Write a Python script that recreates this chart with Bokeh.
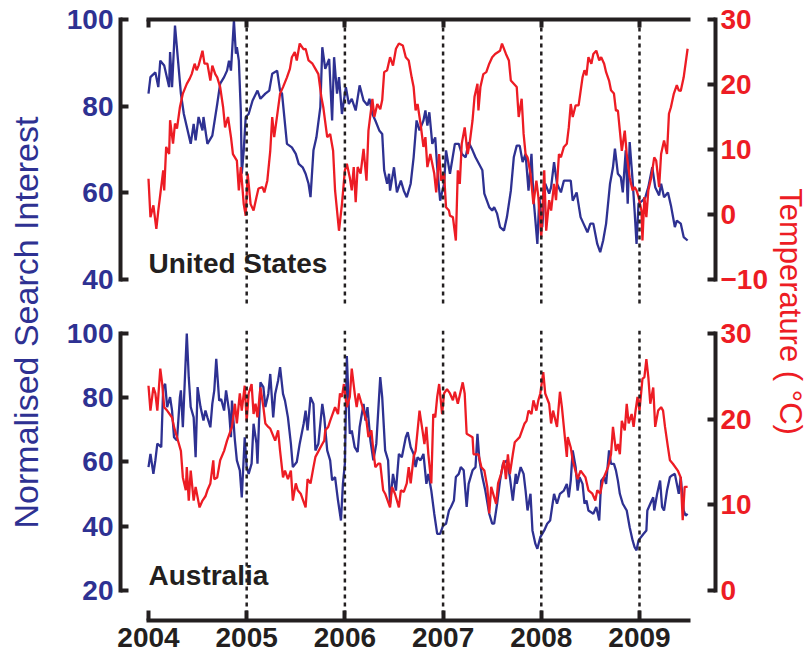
import math
from bokeh.plotting import figure
from bokeh.models import Range1d, LinearAxis, FixedTicker, Span, Label, CustomLabelingPolicy
from bokeh.layouts import row, column
from bokeh.embed import file_html
from bokeh.resources import INLINE

# ---------------- data ----------------
years = [2004, 2005, 2006, 2007, 2008, 2009]
year_lines = [2005, 2006, 2007, 2008, 2009]

us_search_year = [2004.00, 2004.02, 2004.07, 2004.10, 2004.12, 2004.16, 2004.21, 2004.22, 2004.24, 2004.27,
    2004.33, 2004.36, 2004.43, 2004.46, 2004.48, 2004.51, 2004.55, 2004.56, 2004.60, 2004.65,
    2004.70, 2004.73, 2004.77, 2004.80, 2004.82, 2004.84, 2004.87, 2004.89, 2004.90, 2004.92,
    2004.94, 2004.95, 2004.97, 2004.99, 2005.02, 2005.06, 2005.11, 2005.14, 2005.19, 2005.23,
    2005.26, 2005.31, 2005.34, 2005.36, 2005.41, 2005.46, 2005.50, 2005.53, 2005.57, 2005.60,
    2005.63, 2005.65, 2005.68, 2005.71, 2005.75, 2005.77, 2005.80, 2005.84, 2005.87, 2005.89,
    2005.92, 2005.94, 2005.97, 2006.01, 2006.04, 2006.07, 2006.11, 2006.15, 2006.19, 2006.23,
    2006.25, 2006.28, 2006.31, 2006.35, 2006.38, 2006.40, 2006.43, 2006.45, 2006.46, 2006.50,
    2006.53, 2006.57, 2006.60, 2006.63, 2006.67, 2006.70, 2006.73, 2006.76, 2006.80, 2006.82,
    2006.84, 2006.86, 2006.89, 2006.92, 2006.94, 2006.97, 2007.01, 2007.03, 2007.07, 2007.12,
    2007.16, 2007.19, 2007.23, 2007.26, 2007.30, 2007.33, 2007.40, 2007.42, 2007.47, 2007.50,
    2007.52, 2007.55, 2007.58, 2007.62, 2007.65, 2007.69, 2007.72, 2007.75, 2007.78, 2007.81,
    2007.84, 2007.87, 2007.90, 2007.92, 2007.96, 2007.98, 2008.01, 2008.04, 2008.08, 2008.10,
    2008.13, 2008.16, 2008.20, 2008.23, 2008.30, 2008.32, 2008.36, 2008.40, 2008.43, 2008.47,
    2008.50, 2008.53, 2008.57, 2008.60, 2008.63, 2008.66, 2008.70, 2008.73, 2008.75, 2008.78,
    2008.81, 2008.83, 2008.86, 2008.88, 2008.90, 2008.93, 2008.95, 2008.97, 2008.99, 2009.03,
    2009.06, 2009.09, 2009.13, 2009.16, 2009.20, 2009.22, 2009.25, 2009.29, 2009.32, 2009.36,
    2009.38, 2009.42, 2009.45, 2009.49]
us_search = [82.9, 86.7, 87.8, 84.4, 90.5, 89.4, 84.4, 92.5, 84.4, 98.6,
    82.9, 78.2, 71.3, 75.9, 72.1, 77.5, 74.4, 77.5, 71.3, 73.2,
    80.5, 85.2, 86.7, 88.2, 90.5, 88.2, 99.8, 92.1, 93.6, 90.5,
    79.0, 64.4, 69.8, 77.5, 78.2, 81.3, 83.6, 81.7, 82.9, 83.6,
    87.5, 88.2, 83.6, 82.9, 71.3, 70.5, 69.0, 66.7, 65.9, 64.4,
    62.1, 59.0, 69.8, 72.8, 79.8, 93.6, 88.6, 90.9, 76.7, 91.3,
    82.9, 86.7, 78.2, 84.4, 80.5, 81.7, 79.0, 84.8, 81.3, 80.2,
    81.7, 78.2, 76.7, 74.4, 73.6, 65.2, 62.1, 64.4, 60.5, 65.9,
    60.1, 62.8, 60.5, 59.0, 62.1, 68.2, 76.7, 74.4, 76.7, 79.0,
    75.5, 78.6, 71.3, 72.8, 65.9, 58.2, 62.1, 69.8, 64.4, 71.3,
    71.3, 69.0, 68.2, 71.7, 69.8, 68.2, 65.2, 59.8, 56.7, 55.9,
    56.7, 55.2, 52.1, 51.3, 54.4, 60.5, 68.2, 70.9, 70.9, 67.1,
    69.0, 60.5, 69.0, 59.0, 48.2, 59.0, 52.1, 62.1, 59.8, 61.3,
    67.1, 62.1, 60.1, 62.8, 62.8, 58.2, 60.1, 54.4, 52.9, 50.9,
    52.9, 52.9, 48.2, 46.3, 49.0, 52.9, 62.1, 65.9, 70.2, 64.4,
    63.6, 60.1, 69.8, 57.5, 71.7, 62.8, 55.9, 48.2, 57.5, 58.2,
    59.0, 61.3, 65.9, 61.3, 59.4, 62.1, 59.0, 60.1, 57.1, 52.1,
    53.6, 52.9, 49.8, 49.0]

us_temp_year = [2004.00, 2004.02, 2004.05, 2004.08, 2004.10, 2004.15, 2004.16, 2004.18, 2004.21, 2004.22,
    2004.25, 2004.27, 2004.29, 2004.32, 2004.35, 2004.39, 2004.42, 2004.44, 2004.47, 2004.49,
    2004.51, 2004.55, 2004.57, 2004.60, 2004.63, 2004.65, 2004.68, 2004.70, 2004.73, 2004.76,
    2004.78, 2004.81, 2004.84, 2004.86, 2004.90, 2004.92, 2004.94, 2004.97, 2004.99, 2005.01,
    2005.04, 2005.07, 2005.10, 2005.12, 2005.16, 2005.18, 2005.21, 2005.24, 2005.26, 2005.28,
    2005.31, 2005.34, 2005.37, 2005.41, 2005.44, 2005.46, 2005.49, 2005.51, 2005.54, 2005.58,
    2005.60, 2005.63, 2005.67, 2005.70, 2005.73, 2005.76, 2005.78, 2005.82, 2005.85, 2005.88,
    2005.90, 2005.94, 2005.97, 2006.00, 2006.02, 2006.05, 2006.07, 2006.09, 2006.11, 2006.13,
    2006.16, 2006.19, 2006.22, 2006.24, 2006.28, 2006.30, 2006.33, 2006.36, 2006.38, 2006.40,
    2006.43, 2006.46, 2006.49, 2006.52, 2006.55, 2006.59, 2006.62, 2006.65, 2006.68, 2006.70,
    2006.72, 2006.74, 2006.77, 2006.80, 2006.82, 2006.84, 2006.87, 2006.91, 2006.93, 2006.96,
    2006.98, 2007.01, 2007.03, 2007.06, 2007.07, 2007.10, 2007.13, 2007.15, 2007.17, 2007.19,
    2007.22, 2007.25, 2007.27, 2007.30, 2007.32, 2007.35, 2007.36, 2007.38, 2007.41, 2007.44,
    2007.47, 2007.50, 2007.53, 2007.58, 2007.60, 2007.64, 2007.67, 2007.69, 2007.75, 2007.77,
    2007.80, 2007.82, 2007.84, 2007.86, 2007.89, 2007.92, 2007.95, 2007.97, 2008.00, 2008.03,
    2008.05, 2008.08, 2008.10, 2008.13, 2008.15, 2008.18, 2008.20, 2008.23, 2008.26, 2008.28,
    2008.30, 2008.32, 2008.35, 2008.38, 2008.42, 2008.44, 2008.46, 2008.48, 2008.51, 2008.53,
    2008.56, 2008.59, 2008.61, 2008.64, 2008.66, 2008.69, 2008.71, 2008.74, 2008.76, 2008.78,
    2008.80, 2008.82, 2008.85, 2008.87, 2008.90, 2008.93, 2008.95, 2008.97, 2008.99, 2009.02,
    2009.03, 2009.05, 2009.07, 2009.09, 2009.12, 2009.15, 2009.17, 2009.20, 2009.22, 2009.25,
    2009.28, 2009.30, 2009.32, 2009.35, 2009.38, 2009.40, 2009.42, 2009.45, 2009.49]
us_temp = [5.5, -0.4, 1.4, -2.2, 0.6, 6.8, 3.7, 10.4, 9.3, 14.5,
    10.9, 14.0, 13.2, 16.5, 18.6, 20.1, 20.9, 21.6, 23.2, 22.2,
    22.9, 25.2, 23.2, 23.2, 20.6, 22.9, 21.6, 21.1, 19.6, 16.5,
    13.4, 15.0, 11.9, 9.3, 8.3, 3.7, 7.3, 1.6, -0.2, 6.3,
    1.6, 0.6, 2.7, 4.0, 4.2, 3.4, 5.2, 9.8, 15.0, 11.9,
    15.2, 18.6, 19.6, 21.1, 22.4, 24.2, 25.0, 23.7, 26.3, 25.4,
    25.5, 23.7, 23.2, 22.4, 21.6, 18.1, 16.5, 11.9, 12.4, 9.8,
    3.7, -2.5, 1.6, 6.8, 7.8, 5.7, 3.7, 7.3, 1.9, 7.3,
    6.3, 10.1, 5.2, 12.9, 17.8, 15.0, 17.0, 16.2, 17.6, 21.9,
    22.2, 24.2, 22.9, 25.5, 26.3, 26.0, 24.2, 23.7, 21.1, 19.6,
    16.0, 17.0, 14.0, 10.4, 11.9, 7.3, 9.3, 6.3, 3.4, 9.3,
    5.2, 6.3, 1.1, 0.6, -0.2, -0.4, -4.0, 6.8, 4.7, 10.9,
    13.4, 9.3, 10.9, 14.5, 18.1, 20.1, 16.0, 19.6, 21.6, 21.9,
    23.2, 24.2, 24.7, 25.2, 26.3, 24.7, 23.7, 20.6, 19.6, 15.0,
    17.8, 12.4, 9.3, 8.8, 6.3, 1.6, 5.2, 2.7, -3.5, 6.8,
    -2.5, 2.2, 0.6, 4.7, 2.2, 9.3, 8.8, 10.4, 10.9, 13.4,
    17.0, 15.0, 16.8, 16.8, 21.1, 22.2, 21.4, 24.2, 23.2, 24.7,
    25.2, 23.7, 24.2, 23.2, 21.9, 20.6, 19.1, 18.6, 16.0, 16.0,
    12.9, 9.8, 12.9, 9.3, 5.7, 3.7, 4.2, 3.7, 2.7, 0.6,
    -4.0, 2.7, -0.4, 3.7, 5.7, 8.8, 8.3, 4.2, 9.3, 11.4,
    9.3, 15.5, 16.5, 18.6, 19.9, 19.1, 19.0, 21.1, 25.5]

au_search_year = [2004.00, 2004.02, 2004.05, 2004.07, 2004.09, 2004.13, 2004.15, 2004.17, 2004.19, 2004.22,
    2004.24, 2004.26, 2004.29, 2004.32, 2004.33, 2004.35, 2004.39, 2004.41, 2004.43, 2004.46,
    2004.48, 2004.50, 2004.53, 2004.56, 2004.58, 2004.60, 2004.63, 2004.65, 2004.67, 2004.69,
    2004.72, 2004.74, 2004.77, 2004.79, 2004.82, 2004.84, 2004.85, 2004.88, 2004.90, 2004.93,
    2004.95, 2004.98, 2005.00, 2005.02, 2005.05, 2005.07, 2005.10, 2005.11, 2005.14, 2005.17,
    2005.19, 2005.22, 2005.24, 2005.27, 2005.29, 2005.32, 2005.34, 2005.37, 2005.39, 2005.42,
    2005.45, 2005.47, 2005.51, 2005.54, 2005.58, 2005.60, 2005.62, 2005.65, 2005.68, 2005.70,
    2005.73, 2005.77, 2005.79, 2005.82, 2005.85, 2005.87, 2005.90, 2005.93, 2005.96, 2005.98,
    2006.00, 2006.02, 2006.05, 2006.07, 2006.10, 2006.13, 2006.15, 2006.19, 2006.21, 2006.23,
    2006.26, 2006.29, 2006.32, 2006.36, 2006.38, 2006.41, 2006.44, 2006.46, 2006.49, 2006.52,
    2006.55, 2006.58, 2006.62, 2006.64, 2006.67, 2006.70, 2006.72, 2006.74, 2006.77, 2006.80,
    2006.83, 2006.85, 2006.88, 2006.91, 2006.94, 2006.97, 2007.00, 2007.03, 2007.06, 2007.08,
    2007.11, 2007.13, 2007.16, 2007.18, 2007.21, 2007.24, 2007.26, 2007.30, 2007.33, 2007.35,
    2007.37, 2007.40, 2007.43, 2007.47, 2007.50, 2007.52, 2007.55, 2007.58, 2007.61, 2007.65,
    2007.68, 2007.71, 2007.74, 2007.75, 2007.79, 2007.82, 2007.84, 2007.86, 2007.89, 2007.91,
    2007.94, 2007.96, 2007.99, 2008.03, 2008.06, 2008.09, 2008.13, 2008.16, 2008.19, 2008.23,
    2008.26, 2008.28, 2008.30, 2008.32, 2008.35, 2008.37, 2008.39, 2008.42, 2008.44, 2008.46,
    2008.48, 2008.53, 2008.56, 2008.59, 2008.61, 2008.64, 2008.66, 2008.69, 2008.71, 2008.74,
    2008.76, 2008.78, 2008.80, 2008.83, 2008.87, 2008.90, 2008.93, 2008.95, 2008.97, 2008.99,
    2009.04, 2009.07, 2009.08, 2009.11, 2009.14, 2009.15, 2009.18, 2009.21, 2009.23, 2009.25,
    2009.28, 2009.31, 2009.33, 2009.36, 2009.38, 2009.40, 2009.42, 2009.45, 2009.47, 2009.49]
au_search = [58.4, 62.5, 56.3, 60.5, 65.7, 64.6, 83.3, 84.3, 77.1, 80.2,
    76.0, 67.7, 66.7, 80.2, 82.3, 70.8, 100.0, 86.4, 77.1, 73.9,
    61.5, 83.3, 77.1, 72.9, 76.0, 73.9, 70.8, 78.1, 82.3, 92.1,
    79.1, 79.6, 76.0, 82.3, 76.0, 67.7, 79.1, 66.7, 60.5, 57.4,
    49.0, 67.7, 58.4, 56.3, 59.5, 71.9, 65.7, 59.5, 84.8, 83.3,
    77.1, 81.2, 87.4, 73.9, 81.2, 85.4, 89.5, 81.2, 79.1, 73.9,
    65.7, 58.4, 60.0, 65.7, 71.9, 76.0, 69.8, 80.2, 78.1, 63.6,
    65.7, 78.1, 73.9, 63.6, 60.5, 54.3, 55.3, 48.0, 41.8, 53.2,
    59.5, 93.0, 68.8, 69.8, 64.6, 63.1, 70.8, 78.1, 72.9, 77.1,
    66.7, 60.5, 65.7, 86.4, 80.2, 63.6, 60.5, 47.0, 56.3, 51.1,
    62.5, 61.5, 67.7, 69.3, 64.6, 62.5, 58.4, 61.5, 60.5, 62.5,
    53.2, 56.3, 51.1, 43.9, 37.6, 37.6, 40.2, 40.8, 44.9, 46.0,
    48.0, 55.3, 56.3, 58.4, 57.4, 46.0, 53.2, 57.4, 58.4, 68.8,
    60.5, 55.3, 51.1, 43.9, 40.8, 40.8, 47.0, 54.2, 59.5, 60.5,
    55.3, 48.0, 56.3, 53.2, 58.4, 56.3, 51.1, 44.9, 50.1, 38.7,
    34.5, 33.0, 36.6, 38.7, 40.8, 41.8, 50.1, 47.0, 50.1, 51.1,
    53.2, 49.0, 54.2, 63.6, 58.4, 51.1, 55.3, 53.2, 47.0, 48.0,
    44.9, 43.9, 46.0, 41.8, 54.2, 55.3, 53.2, 63.6, 59.4, 59.4,
    57.4, 54.2, 50.1, 47.0, 44.9, 39.7, 35.6, 33.5, 32.5, 35.6,
    37.6, 38.7, 44.9, 47.0, 49.0, 44.9, 50.1, 54.2, 46.0, 44.9,
    51.1, 55.3, 55.8, 56.3, 53.2, 50.1, 55.3, 44.9, 43.3, 43.9]

au_temp_year = [2004.00, 2004.02, 2004.05, 2004.07, 2004.09, 2004.12, 2004.14, 2004.16, 2004.19, 2004.24,
    2004.26, 2004.28, 2004.31, 2004.33, 2004.35, 2004.38, 2004.39, 2004.41, 2004.43, 2004.46,
    2004.48, 2004.50, 2004.52, 2004.55, 2004.58, 2004.60, 2004.63, 2004.66, 2004.67, 2004.70,
    2004.73, 2004.77, 2004.80, 2004.85, 2004.88, 2004.90, 2004.93, 2004.95, 2004.98, 2005.00,
    2005.02, 2005.05, 2005.07, 2005.09, 2005.11, 2005.14, 2005.17, 2005.19, 2005.22, 2005.24,
    2005.29, 2005.32, 2005.34, 2005.37, 2005.39, 2005.42, 2005.45, 2005.47, 2005.50, 2005.52,
    2005.55, 2005.60, 2005.62, 2005.65, 2005.68, 2005.70, 2005.77, 2005.79, 2005.80, 2005.83,
    2005.85, 2005.90, 2005.93, 2005.95, 2005.97, 2005.99, 2006.02, 2006.05, 2006.07, 2006.10,
    2006.12, 2006.14, 2006.17, 2006.19, 2006.22, 2006.24, 2006.27, 2006.29, 2006.31, 2006.34,
    2006.36, 2006.39, 2006.41, 2006.46, 2006.48, 2006.51, 2006.55, 2006.57, 2006.60, 2006.63,
    2006.65, 2006.67, 2006.70, 2006.72, 2006.76, 2006.79, 2006.81, 2006.83, 2006.85, 2006.88,
    2006.90, 2006.92, 2006.94, 2006.96, 2006.99, 2007.01, 2007.04, 2007.07, 2007.10, 2007.12,
    2007.15, 2007.20, 2007.22, 2007.24, 2007.30, 2007.31, 2007.36, 2007.39, 2007.42, 2007.45,
    2007.47, 2007.49, 2007.52, 2007.54, 2007.56, 2007.59, 2007.62, 2007.64, 2007.66, 2007.68,
    2007.71, 2007.73, 2007.78, 2007.83, 2007.85, 2007.87, 2007.90, 2007.92, 2007.95, 2007.97,
    2007.99, 2008.02, 2008.04, 2008.08, 2008.10, 2008.12, 2008.16, 2008.19, 2008.21, 2008.24,
    2008.26, 2008.27, 2008.30, 2008.32, 2008.37, 2008.40, 2008.45, 2008.48, 2008.52, 2008.55,
    2008.57, 2008.60, 2008.63, 2008.68, 2008.71, 2008.73, 2008.76, 2008.78, 2008.80, 2008.82,
    2008.85, 2008.87, 2008.89, 2008.92, 2008.94, 2008.96, 2008.98, 2009.00, 2009.03, 2009.05,
    2009.07, 2009.09, 2009.11, 2009.14, 2009.16, 2009.19, 2009.22, 2009.24, 2009.26, 2009.29,
    2009.31, 2009.34, 2009.39, 2009.42, 2009.44, 2009.46, 2009.49]
au_temp = [23.9, 21.0, 23.7, 23.0, 21.0, 25.9, 24.1, 21.4, 21.0, 20.2,
    19.1, 18.3, 17.1, 16.3, 13.2, 11.7, 14.4, 10.5, 14.0, 10.5,
    12.1, 10.9, 9.7, 10.5, 11.0, 11.7, 12.5, 15.2, 13.0, 13.2,
    15.2, 16.3, 17.5, 19.1, 21.8, 19.5, 23.0, 21.0, 23.9, 19.8,
    23.0, 24.1, 20.6, 21.8, 20.2, 23.7, 21.4, 19.5, 19.1, 18.9,
    17.5, 18.7, 16.3, 13.2, 14.0, 13.0, 14.0, 10.5, 12.5, 11.7,
    11.3, 9.7, 13.0, 12.5, 14.4, 15.6, 17.1, 17.5, 18.7, 19.1,
    19.8, 21.4, 20.6, 23.0, 22.6, 24.1, 21.4, 22.6, 25.9, 23.0,
    21.4, 23.0, 21.8, 21.0, 19.8, 17.9, 18.7, 16.3, 14.4, 14.8,
    14.8, 11.7, 11.3, 9.7, 12.1, 11.3, 9.7, 11.7, 11.5, 12.5,
    14.4, 12.5, 15.6, 16.3, 21.0, 18.7, 17.1, 19.1, 15.9, 12.5,
    20.6, 20.2, 22.6, 24.1, 20.6, 23.0, 23.5, 23.0, 22.2, 23.2,
    21.8, 24.3, 23.0, 18.3, 17.9, 15.9, 15.9, 14.4, 14.0, 12.1,
    9.0, 12.1, 10.9, 10.1, 12.5, 13.6, 15.2, 13.0, 15.9, 13.6,
    15.9, 17.3, 17.9, 19.5, 19.8, 21.0, 20.6, 22.2, 21.0, 22.2,
    23.0, 25.5, 23.0, 21.8, 19.5, 21.0, 19.1, 23.2, 21.4, 17.9,
    15.6, 17.9, 16.7, 15.2, 13.0, 14.0, 13.2, 11.7, 11.3, 10.5,
    11.7, 11.3, 13.0, 14.4, 15.9, 19.1, 16.3, 17.1, 15.9, 19.8,
    18.7, 21.8, 19.5, 20.6, 19.1, 21.0, 22.6, 21.0, 24.7, 24.9,
    27.0, 24.9, 21.8, 23.7, 19.1, 21.0, 21.4, 21.0, 19.1, 16.7,
    15.2, 14.8, 14.0, 13.2, 8.2, 12.1, 12.1]

search_ticks_us = [40, 60, 80, 100]
temp_ticks_us = [-10, 0, 10, 20, 30]
search_ticks_au = [20, 40, 60, 80, 100]
temp_ticks_au = [0, 10, 20, 30]

# ---------------- style ----------------
FONT = "Liberation Sans"
BLUE = "#2E3192"
RED = "#ED1C24"
BLACK = "#231F20"
X_RANGE = (2003.715, 2009.774)
LEFT_W = 55
RIGHT_W = 40
MAIN_W = 810 - LEFT_W - RIGHT_W   # 715
FRAME_L = 120 - LEFT_W            # frame starts at x=120
FRAME_R = LEFT_W + MAIN_W - 715   # frame ends at x=715


def style_axis(ax, color, ticks, bounds, tick_in=8, labels=True, standoff=7):
    ax.ticker = FixedTicker(ticks=ticks, minor_ticks=[])
    ax.bounds = bounds
    ax.axis_line_width = 4
    ax.axis_line_color = BLACK
    ax.axis_line_cap = "square"
    ax.major_tick_in = tick_in
    ax.major_tick_out = 0
    ax.major_tick_line_width = 4
    ax.major_tick_line_color = BLACK
    ax.minor_tick_line_color = None
    ax.major_label_text_font = FONT
    ax.major_label_text_font_style = "bold"
    ax.major_label_text_color = color
    if labels:
        ax.major_label_text_font_size = "28px"
        ax.major_label_standoff = standoff
    else:
        ax.major_label_text_font_size = "10px"
        ax.major_label_standoff = 0
        ax.major_label_policy = CustomLabelingPolicy(code="return []")


def base_fig(height, yr, tyr, top, bottom, xloc):
    p = figure(width=MAIN_W, height=height, x_range=Range1d(*X_RANGE),
               y_range=Range1d(*yr), output_backend="svg", toolbar_location=None,
               min_border_left=FRAME_L, min_border_right=FRAME_R, min_border_top=top,
               min_border_bottom=bottom, x_axis_location=xloc)
    p.extra_y_ranges = {"temp": Range1d(*tyr)}
    p.outline_line_color = None
    p.xgrid.grid_line_color = None
    p.ygrid.grid_line_color = None
    p.background_fill_color = "white"
    p.border_fill_color = "white"
    for yl in year_lines:
        p.add_layout(Span(location=yl, dimension="height", line_color=BLACK,
                          line_width=2.5, line_dash="4 4"))
    return p


# ---------------- top panel: United States ----------------
top = base_fig(310, (34.0, 100.0), (-14.0, 30.0), 19, 5, "above")
style_axis(top.xaxis[0], BLACK, years, (2004, 2009.5), tick_in=8, labels=False)
style_axis(top.yaxis[0], BLUE, search_ticks_us, (40, 100))
rt = LinearAxis(y_range_name="temp")
style_axis(rt, RED, temp_ticks_us, (-10, 30), standoff=5)
top.add_layout(rt, "right")
top.line(us_search_year, us_search, line_color=BLUE, line_width=2.3)
top.line(us_temp_year, us_temp, line_color=RED, line_width=2.3, y_range_name="temp")
top.add_layout(Label(x=2004.0, y=43.7, text="United States", text_font=FONT,
                     text_font_style="bold", text_font_size="28px",
                     text_color=BLACK, text_baseline="middle"))

# ---------------- bottom panel: Australia ----------------
bot = base_fig(347, (10.66, 100.93), (-3.50, 30.35), 20, 37, "below")
style_axis(bot.xaxis[0], BLACK, years, (2004, 2009.5), tick_in=10)
style_axis(bot.yaxis[0], BLUE, search_ticks_au, (20, 100))
rb = LinearAxis(y_range_name="temp")
style_axis(rb, RED, temp_ticks_au, (0, 30), standoff=5)
bot.add_layout(rb, "right")
bot.line(au_search_year, au_search, line_color=BLUE, line_width=2.3)
bot.line(au_temp_year, au_temp, line_color=RED, line_width=2.3, y_range_name="temp")
bot.add_layout(Label(x=2004.0, y=24.7, text="Australia", text_font=FONT,
                     text_font_style="bold", text_font_size="28px",
                     text_color=BLACK, text_baseline="middle"))


# ---------------- side figures holding the axis titles ----------------
def title_fig(width, text, color, angle, xpos, ypos, size):
    p = figure(width=width, height=657, x_range=Range1d(0, width), y_range=Range1d(0, 657),
               output_backend="svg", toolbar_location=None, x_axis_type=None,
               y_axis_type=None, min_border=0)
    p.outline_line_color = None
    p.xgrid.grid_line_color = None
    p.ygrid.grid_line_color = None
    p.add_layout(Label(x=xpos, y=ypos, text=text, text_font=FONT, text_font_size=size,
                       text_color=color, angle=angle, text_align="center",
                       text_baseline="middle"))
    return p


left_t = title_fig(LEFT_W, "Normalised Search Interest", BLUE, math.pi / 2, 25, 335, "34px")
right_t = title_fig(RIGHT_W, "Temperature ( °C)", RED, -math.pi / 2, 20, 346, "31px")

layout = row(left_t, column(top, bot), right_t)

open("out.html", "w").write(file_html(layout, INLINE))
